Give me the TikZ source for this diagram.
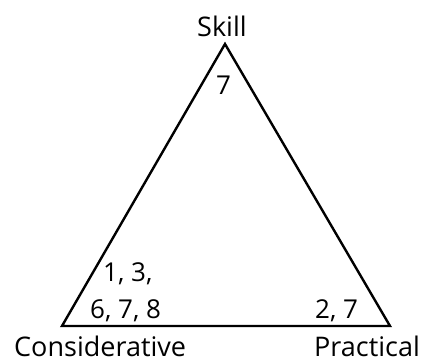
\documentclass[tikz,border=0pt]{standalone}
\usepackage{fontspec}
\setmainfont{Open Sans}
\begin{document}
\begin{tikzpicture}[x=1pt,y=-1pt,
  lbl/.style={inner sep=0pt,text depth=0pt,font=\fontsize{27}{30}\selectfont},
  num/.style={inner sep=0pt,font=\fontsize{26}{30}\selectfont}]
\useasboundingbox (0,0) rectangle (424,361);
\coordinate (A) at (225,44);
\coordinate (B) at (62,326);
\coordinate (C) at (390,326);
\draw[line width=2.4pt,line join=miter] (A) -- (B) -- (C) -- cycle;
\node[lbl,anchor=base west] (skill) at (197,37) {Skill};
\node[lbl,anchor=base west] (cons) at (14,356) {Considerative};
\node[lbl,anchor=base west] (prac) at (314,356) {Practical};
\node[num,anchor=base west] (n7) at (216,95) {7};
\node[num,anchor=base west] (n13) at (103,282) {1, 3,};
\node[num,anchor=base west] (n678) at (90,319) {6, 7, 8};
\node[num,anchor=base west] (n27) at (315,319) {2, 7};
\end{tikzpicture}
\end{document}
